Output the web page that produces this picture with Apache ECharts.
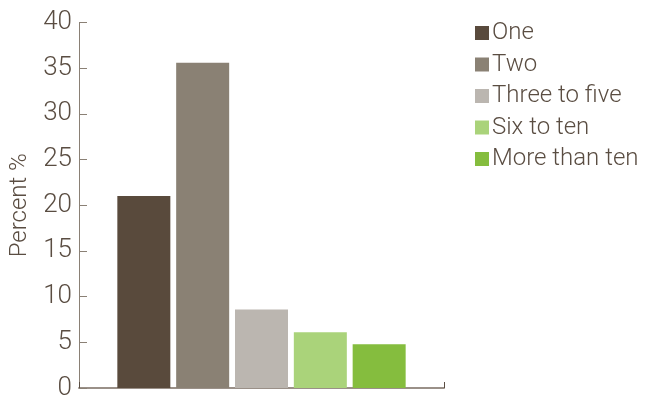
<!DOCTYPE html>
<html><head><meta charset="utf-8">
<script src="https://cdn.jsdelivr.net/npm/echarts@6/dist/echarts.min.js"></script>
<style>html,body{margin:0;padding:0;background:#fff}#c{width:647px;height:396px}</style>
</head><body><div id="c"></div>
<script>
const categories = [''];
const seriesNames = ['One', 'Two', 'Three to five', 'Six to ten', 'More than ten'];
const seriesValues = [21.0, 35.6, 8.6, 6.1, 4.8];
const seriesColors = ['#594a3c', '#8a8174', '#bbb6b0', '#aad37a', '#85bd3e'];
const yTicks = [0, 5, 10, 15, 20, 25, 30, 35, 40];

const textColor = '#5a4d42';
const fontFamily = 'Roboto, "Liberation Sans", sans-serif';
const chart = echarts.init(document.getElementById('c'));
chart.setOption({
  animation: false,
  grid: { left: 79, right: 203, top: 22.5, bottom: 8, containLabel: false, outerBoundsMode: 'none' },
  legend: {
    orient: 'vertical', left: 470, top: 16, itemWidth: 14, itemHeight: 14, itemGap: 7.5,
    icon: 'rect',
    textStyle: { color: textColor, fontSize: 24, lineHeight: 20, fontFamily, fontWeight: 300, padding: [0, 0, 0, -2] },
    data: seriesNames
  },
  xAxis: {
    type: 'category', data: categories,
    axisLine: { lineStyle: { color: '#9a9088', width: 2 } },
    axisTick: { show: true, inside: true, length: 6, lineStyle: { color: '#5a4d42' } },
    axisLabel: { show: false }
  },
  yAxis: {
    type: 'value', min: yTicks[0], max: yTicks[yTicks.length - 1], interval: 5,
    name: 'Percent %', nameLocation: 'middle', nameGap: 44, nameRotate: 90,
    nameTextStyle: { color: textColor, fontSize: 24, fontFamily, fontWeight: 300 },
    axisLine: { show: true, lineStyle: { color: '#8a8075', width: 1 } },
    axisTick: { show: true, inside: true, length: 8, lineStyle: { color: '#8a8075' } },
    axisLabel: { color: textColor, fontSize: 26, fontFamily, fontWeight: 300, margin: 7 },
    splitLine: { show: false }
  },
  series: seriesNames.map((n, i) => ({
    name: n, type: 'bar', barWidth: 53, barGap: '11%',
    itemStyle: { color: seriesColors[i] },
    data: [seriesValues[i]]
  }))
});
</script></body></html>
